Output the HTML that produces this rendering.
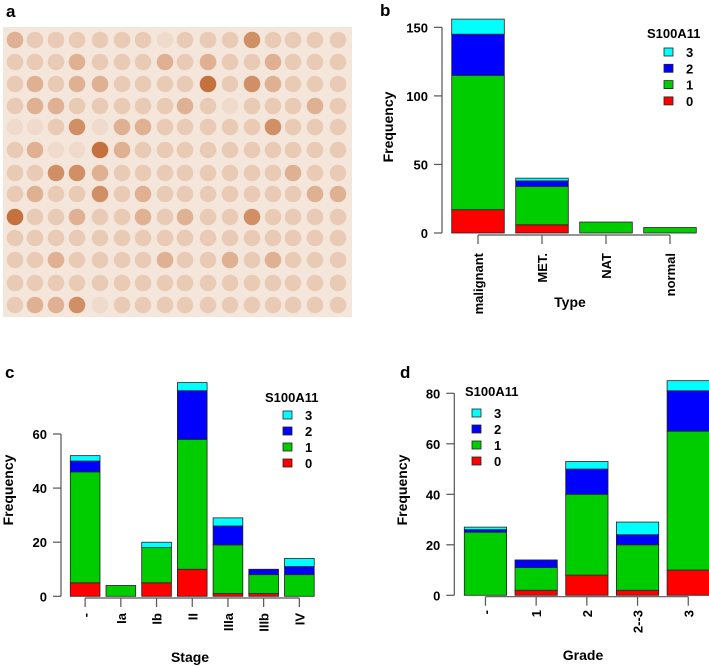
<!DOCTYPE html>
<html><head><meta charset="utf-8"><style>
html,body{margin:0;padding:0;background:#fff;}
svg{display:block;font-family:"Liberation Sans",Arial,sans-serif;font-weight:bold;}
</style></head><body>
<svg id="fig" width="709" height="666" viewBox="0 0 709 666" xmlns="http://www.w3.org/2000/svg">
<g id="pa">
<text x="6" y="17" font-size="17">a</text>
<rect x="3" y="27" width="349" height="290" fill="#f5e6db"/>
</g>
<g id="pb"></g>
<g id="pc"></g>
<g id="pd"></g>
</svg>
<script>
// TMA intensity grid (13 rows x 16 cols)
const tmaRows = [
"2111111011131111","1112111212112111","1212211114132111","1221111121011121",
"0013022111113111","1200421111111111","1133211111111211","1211312111111122",
"4112112121131111","1111111111111111","1121111211212111","1111111111111111",
"1223011111111111"];
// Panel b data
const bCats = ["malignant","MET.","NAT","normal"];
const bS0 = [17,6,0,0], bS1 = [98,28,8,4], bS2 = [30,4,0,0], bS3 = [11,2,0,0];
const bTicks = [0,50,100,150];
// Panel c data
const cCats = ["-","Ia","Ib","II","IIIa","IIIb","IV"];
const cS0 = [5,0,5,10,1,1,0], cS1 = [41,4,13,48,18,7,8], cS2 = [4,0,0,18,7,2,3], cS3 = [2,0,2,3,3,0,3];
const cTicks = [0,20,40,60];
// Panel d data
const dCats = ["-","1","2","2--3","3"];
const dS0 = [0,2,8,2,10], dS1 = [25,9,32,18,55], dS2 = [1,3,10,4,16], dS3 = [1,0,3,5,4];
const dTicks = [0,20,40,60,80];

const NS="http://www.w3.org/2000/svg";
const COLORS=["#ff0000","#00cd00","#0000ff","#00ffff"];
function mk(parent,tag,attrs,text){const e=document.createElementNS(NS,tag);for(const k in attrs)e.setAttribute(k,attrs[k]);if(text!==undefined)e.textContent=text;parent.appendChild(e);return e;}

// TMA
const pa=document.getElementById('pa');
const tmaColors=["#efdacc","#e9cab5","#dfb092","#d08f64","#c5713e"];
const colX=[15,35,56,77,100,122,143,165,185,208,230,252,273,293,315,338];
const rowY=[40,62,84,106,127,150,173,194,217,238,260,283,305];
tmaRows.forEach((r,i)=>{for(let j=0;j<r.length;j++){
  const c=mk(pa,'circle',{cx:colX[j],cy:rowY[i],r:8.3,fill:tmaColors[+r[j]]});
  
  
}});

function chart(g,o){
  const {cats,series,ticks,y0,pxu,axX,x0,step,bw,letter,lx,ly,xlab,xlx,xly,ylx,yly,lab,leg,axY,labTop}=o;
  const ys=v=>y0-v*pxu;
  const t=mk(g,'text',{x:lx,y:ly,'font-size':17},letter);
  
  const ya=mk(g,'line',{x1:axX,x2:axX,y1:ys(ticks[0]),y2:ys(ticks[ticks.length-1]),stroke:'#555','stroke-width':1.2});
  
  ticks.forEach(v=>{
    const l=mk(g,'line',{x1:axX-8,x2:axX,y1:ys(v),y2:ys(v),stroke:'#555','stroke-width':1.2});
    
    const tx=mk(g,'text',{x:axX-14,y:ys(v)+5,'font-size':13,'text-anchor':'end'},String(v));
    
  });
  cats.forEach((c,i)=>{
    const x=x0+i*step;let acc=0;
    series.forEach((s,k)=>{
      const v=s[i];
      if(v>0){
        const r=mk(g,'rect',{x:x,y:ys(acc+v),width:bw,height:v*pxu,fill:COLORS[k],stroke:'#222','stroke-width':0.8});
        
        
      }
      acc+=v;
    });
    const cx=x+bw/2;
    const tk=mk(g,'line',{x1:cx,x2:cx,y1:axY,y2:axY+9,stroke:'#555','stroke-width':1.2});
    
    const tl=mk(g,'text',{x:0,y:0,'font-size':13,'text-anchor':'end',transform:`translate(${cx+5},${labTop}) rotate(-90)`},c);
    
  });
  const xa=mk(g,'line',{x1:x0+bw/2,x2:x0+(cats.length-1)*step+bw/2,y1:axY,y2:axY,stroke:'#555','stroke-width':1.2});
  
  const xt=mk(g,'text',{x:xlx,y:xly,'font-size':14,'text-anchor':'middle'},xlab);
  
  const yt=mk(g,'text',{x:0,y:0,'font-size':14,'text-anchor':'middle',transform:`translate(${ylx},${yly}) rotate(-90)`},'Frequency');
  
  const lt=mk(g,'text',{x:leg.tx,y:leg.ty,'font-size':13},'S100A11');
  
  [3,2,1,0].forEach((lv,i)=>{
    const yy=leg.by+i*leg.gap;
    const b=mk(g,'rect',{x:leg.bx,y:yy-4,width:9,height:8,fill:COLORS[lv],stroke:'#222','stroke-width':0.8});
    
    const tx=mk(g,'text',{x:leg.bx+22,y:yy+5,'font-size':13},String(lv));
    
  });
}

chart(document.getElementById('pb'),{cats:bCats,series:[bS0,bS1,bS2,bS3],ticks:bTicks,y0:233,pxu:1.371,axX:442,x0:451.7,step:64,bw:52.6,
  letter:'b',lx:380,ly:16,xlab:'Type',xlx:570,xly:307,ylx:393,yly:127,axY:235,labTop:253,
  leg:{tx:647,ty:38,bx:664,by:52,gap:16.3}});
chart(document.getElementById('pc'),{cats:cCats,series:[cS0,cS1,cS2,cS3],ticks:cTicks,y0:596.3,pxu:2.705,axX:61,x0:70.3,step:35.7,bw:29.7,
  letter:'c',lx:5,ly:378,xlab:'Stage',xlx:190,xly:662,ylx:13,yly:490,axY:598,labTop:613,
  leg:{tx:265,ty:402,bx:283,by:415,gap:16}});
chart(document.getElementById('pd'),{cats:dCats,series:[dS0,dS1,dS2,dS3],ticks:dTicks,y0:595.3,pxu:2.525,axX:454.3,x0:464.3,step:50.7,bw:42.3,
  letter:'d',lx:400,ly:378,xlab:'Grade',xlx:583,xly:660,ylx:407,yly:490,axY:596.7,labTop:610,
  leg:{tx:465,ty:396,bx:472,by:413,gap:16}});
</script>
</body></html>
